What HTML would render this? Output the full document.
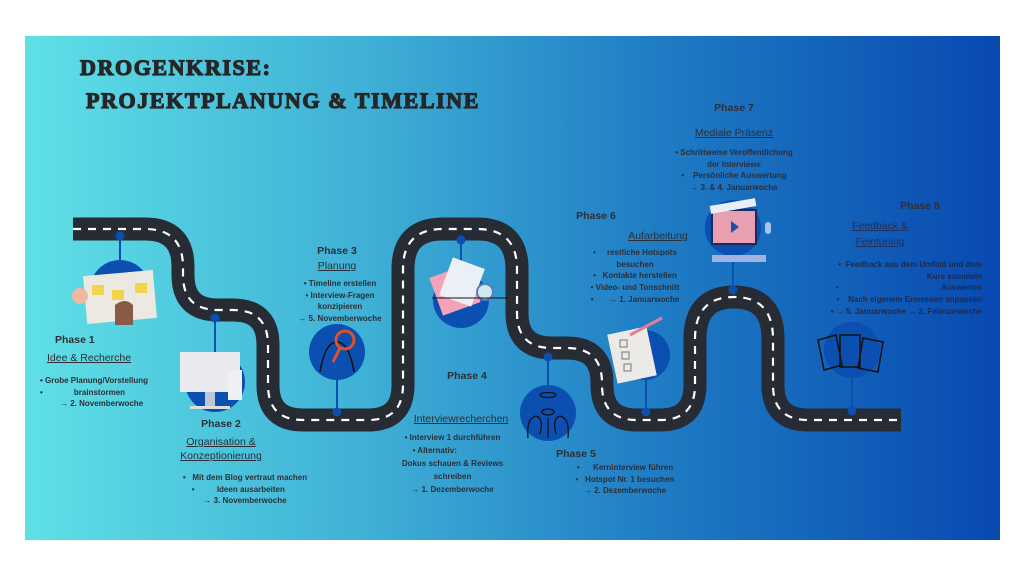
<!DOCTYPE html>
<html><head><meta charset="utf-8"><style>
*{margin:0;padding:0;box-sizing:border-box}
body{width:1024px;height:576px;background:#fff;position:relative;overflow:hidden;font-family:"Liberation Sans",sans-serif;color:#2b2f38}
#panel{position:absolute;left:25px;top:36px;width:975px;height:504px;background:linear-gradient(90deg,#5fe0e6 0%,#3fb0d6 35%,#1f7cc4 65%,#0849b0 100%)}
.t{position:absolute;font-weight:bold;text-align:center;white-space:nowrap}
.ph{font-size:10.5px}
.u{font-size:10.5px;font-weight:normal;text-decoration:underline}
.b{font-size:8px;line-height:11.7px}
.title{position:absolute;font-family:"Liberation Serif",serif;font-weight:900;font-size:22px;color:#262626;letter-spacing:1.6px;-webkit-text-stroke:1.2px #262626}
</style></head><body>
<div id="panel"></div>
<svg width="1024" height="576" style="position:absolute;left:0;top:0">
<g fill="none" stroke-linejoin="round">
<path d="M73,229 H145 Q183,229 183,267 V275 Q183,310 218,310 H233 Q268,310 268,345 V385 Q268,420 303,420 H368 Q403,420 403,385 V269 Q403,229 443,229 H477 Q517,229 517,269 V313 Q517,348 552,348 H567 Q602,348 602,383 V385 Q602,420 637,420 H660 Q695,420 695,385 V339 Q695,297 734,297 Q773,297 773,339 V385 Q773,420 808,420 H901" stroke="#272b33" stroke-width="23"/>
<path d="M73,229 H145 Q183,229 183,267 V275 Q183,310 218,310 H233 Q268,310 268,345 V385 Q268,420 303,420 H368 Q403,420 403,385 V269 Q403,229 443,229 H477 Q517,229 517,269 V313 Q517,348 552,348 H567 Q602,348 602,383 V385 Q602,420 637,420 H660 Q695,420 695,385 V339 Q695,297 734,297 Q773,297 773,339 V385 Q773,420 808,420 H901" stroke="#fff" stroke-width="2.2" stroke-dasharray="8 7"/>
</g>
<g stroke="#0b4fb0" stroke-width="2" fill="#0b4fb0">
<line x1="120" y1="236" x2="120" y2="275"/><circle cx="120" cy="236" r="3.5"/>
<line x1="215" y1="318" x2="215" y2="360"/><circle cx="215" cy="318" r="3.5"/>
<line x1="337" y1="412" x2="337" y2="370"/><circle cx="337" cy="412" r="3.5"/>
<line x1="461" y1="240" x2="461" y2="275"/><circle cx="461" cy="240" r="3.5"/>
<line x1="548" y1="357" x2="548" y2="395"/><circle cx="548" cy="357" r="3.5"/>
<line x1="646" y1="412" x2="646" y2="375"/><circle cx="646" cy="412" r="3.5"/>
<line x1="733" y1="290" x2="733" y2="255"/><circle cx="733" cy="290" r="3.5"/>
<line x1="852" y1="411" x2="852" y2="375"/><circle cx="852" cy="411" r="3.5"/>
</g>
<g fill="#0b4fb0">
<circle cx="120" cy="290" r="30"/><circle cx="215" cy="382" r="30"/>
<circle cx="337" cy="352" r="28"/><circle cx="461" cy="300" r="28"/>
<circle cx="548" cy="413" r="28"/><circle cx="645" cy="355" r="25"/>
<circle cx="733" cy="228" r="28"/><circle cx="852" cy="350" r="28"/>
</g>
<rect x="85" y="273" width="70" height="48" fill="#ece8e2" transform="rotate(-5 120 297)"/>
<rect x="92" y="285" width="12" height="10" fill="#f2d54a"/><rect x="112" y="290" width="12" height="10" fill="#f2d54a"/><rect x="135" y="283" width="12" height="10" fill="#f2d54a"/>
<path d="M115,305 q10,-8 18,0 v20 h-18z" fill="#8a5a44"/>
<circle cx="80" cy="296" r="8" fill="#f0b8a0"/>
<rect x="180" y="352" width="60" height="40" fill="#e8eaee"/><rect x="205" y="392" width="10" height="14" fill="#bcc6d4"/><rect x="190" y="406" width="40" height="3" fill="#ddd"/>
<rect x="228" y="370" width="14" height="30" fill="#f0f0f4"/>
<path d="M320,372 q5,-30 17,-30 q12,0 17,30" fill="none" stroke="#111" stroke-width="1.5"/>
<circle cx="345" cy="340" r="9" fill="none" stroke="#e0502a" stroke-width="3"/><line x1="340" y1="348" x2="333" y2="362" stroke="#e0502a" stroke-width="3"/>
<rect x="435" y="270" width="40" height="40" fill="#f4a3b8" transform="rotate(-20 455 290)"/>
<rect x="445" y="262" width="34" height="40" fill="#eaf0f6" transform="rotate(20 462 282)"/>
<circle cx="485" cy="292" r="8" fill="#cfe8f0" stroke="#5a7ab8" stroke-width="2"/>
<line x1="432" y1="298" x2="508" y2="298" stroke="#111" stroke-width="1"/>
<g fill="none" stroke="#111" stroke-width="1.3"><ellipse cx="548" cy="395" rx="8" ry="2.5"/><path d="M528,438 q-2,-20 8,-22 q8,2 4,18"/><path d="M568,438 q2,-20 -8,-22 q-8,2 -4,18"/><ellipse cx="548" cy="412" rx="6" ry="3"/><line x1="548" y1="418" x2="548" y2="438"/></g>
<rect x="612" y="330" width="40" height="50" fill="#eceae6" transform="rotate(-12 632 355)"/>
<g fill="none" stroke="#777" stroke-width="1"><rect x="620" y="340" width="7" height="7"/><rect x="622" y="352" width="7" height="7"/><rect x="624" y="364" width="7" height="7"/></g>
<line x1="630" y1="335" x2="662" y2="318" stroke="#e87a9a" stroke-width="3"/>
<rect x="712" y="210" width="44" height="34" fill="#e8a0b0" stroke="#1a2a60" stroke-width="2"/>
<rect x="710" y="202" width="46" height="8" fill="#e8eef8" transform="rotate(-10 733 206)"/>
<path d="M731,221 l8,6 l-8,6z" fill="#1a4fb0"/>
<rect x="712" y="255" width="54" height="7" fill="#9fb4e0"/>
<rect x="765" y="222" width="6" height="12" rx="3" fill="#a8c4e8"/>
<g fill="none" stroke="#111" stroke-width="1.5"><path d="M818,340 l18,-5 l6,30 l-18,5z"/><path d="M840,335 l20,0 l0,32 l-20,0z"/><path d="M863,338 l20,4 l-5,30 l-20,-4z"/></g>
</svg>
<div class="title" style="left:80px;top:55px">DROGENKRISE:</div>
<div class="title" style="left:86px;top:88px">PROJEKTPLANUNG &amp; TIMELINE</div>

<div class="t ph" style="left:55px;top:334px">Phase 1</div>
<div class="t u" style="left:47px;top:352px">Idee &amp; Recherche</div>
<div class="t b" style="left:40px;top:375px;width:135px;text-align:left">• Grobe Planung/Vorstellung<br>•&nbsp;&nbsp;&nbsp;&nbsp;&nbsp;&nbsp;&nbsp;&nbsp;&nbsp;&nbsp;&nbsp;&nbsp;&nbsp;&nbsp;brainstormen<br>&nbsp;&nbsp;&nbsp;&nbsp;&nbsp;&nbsp;&nbsp;&nbsp;&nbsp;→ 2. Novemberwoche</div>

<div class="t ph" style="left:171px;top:418px;width:100px">Phase 2</div>
<div class="t u" style="left:161px;top:435px;width:120px;line-height:14px">Organisation &amp;<br>Konzeptionierung</div>
<div class="t b" style="left:170px;top:472px;width:150px">• &nbsp;&nbsp;Mit dem Blog vertraut machen<br>•&nbsp;&nbsp;&nbsp;&nbsp;&nbsp;&nbsp;&nbsp;&nbsp;&nbsp;&nbsp;Ideen ausarbeiten&nbsp;&nbsp;&nbsp;&nbsp;&nbsp;&nbsp;<br>→ 3. Novemberwoche</div>

<div class="t ph" style="left:287px;top:245px;width:100px">Phase 3</div>
<div class="t u" style="left:287px;top:260px;width:100px">Planung</div>
<div class="t b" style="left:285px;top:278px;width:110px">• Timeline erstellen<br>• Interview-Fragen<br>konzipieren<br>→ 5. Novemberwoche</div>

<div class="t ph" style="left:417px;top:370px;width:100px">Phase 4</div>
<div class="t u" style="left:401px;top:413px;width:120px">Interviewrecherchen</div>
<div class="t b" style="left:385px;top:431px;width:135px;line-height:13px">• Interview 1 durchführen<br>• Alternativ:&nbsp;&nbsp;&nbsp;&nbsp;&nbsp;&nbsp;&nbsp;&nbsp;&nbsp;&nbsp;&nbsp;&nbsp;&nbsp;&nbsp;&nbsp;&nbsp;<br>Dokus schauen &amp; Reviews<br>schreiben<br>→ 1. Dezemberwoche</div>

<div class="t ph" style="left:526px;top:448px;width:100px">Phase 5</div>
<div class="t b" style="left:560px;top:462px;width:130px">•&nbsp;&nbsp;&nbsp;&nbsp;&nbsp;&nbsp;Kerninterview führen<br>•&nbsp;&nbsp;&nbsp;Hotspot Nr. 1 besuchen<br>→ 2. Dezemberwoche</div>

<div class="t ph" style="left:546px;top:210px;width:100px">Phase 6</div>
<div class="t u" style="left:608px;top:230px;width:100px">Aufarbeitung</div>
<div class="t b" style="left:575px;top:247px;width:120px">•&nbsp;&nbsp;&nbsp;&nbsp;&nbsp;restliche Hotspots<br>besuchen<br>•&nbsp;&nbsp;&nbsp;Kontakte herstellen<br>• Video- und Tonschnitt<br>•&nbsp;&nbsp;&nbsp;&nbsp;&nbsp;&nbsp;&nbsp;→ 1. Januarwoche</div>

<div class="t ph" style="left:684px;top:102px;width:100px">Phase 7</div>
<div class="t u" style="left:674px;top:127px;width:120px">Mediale Präsenz</div>
<div class="t b" style="left:659px;top:147px;width:150px">• Schrittweise Veröffentlichung<br>der Interviews<br>•&nbsp;&nbsp;&nbsp;&nbsp;Persönliche Auswertung<br>→ 3. &amp; 4. Januarwoche</div>

<div class="t ph" style="left:870px;top:200px;width:100px">Phase 8</div>
<div class="t u" style="left:820px;top:218px;width:120px;line-height:16px;color:#22305a">Feedback &amp;<br>Feintuning</div>
<div class="t b" style="left:808px;top:259px;width:174px;text-align:right;color:#1c2a4e">• &nbsp;Feedback aus dem Umfeld und dem<br>Kurs sammeln<br>•&nbsp;&nbsp;&nbsp;&nbsp;&nbsp;&nbsp;&nbsp;&nbsp;&nbsp;&nbsp;&nbsp;&nbsp;&nbsp;&nbsp;&nbsp;&nbsp;&nbsp;&nbsp;&nbsp;&nbsp;&nbsp;&nbsp;&nbsp;&nbsp;&nbsp;&nbsp;&nbsp;&nbsp;&nbsp;&nbsp;&nbsp;&nbsp;&nbsp;&nbsp;&nbsp;&nbsp;&nbsp;&nbsp;&nbsp;&nbsp;&nbsp;&nbsp;&nbsp;&nbsp;&nbsp;&nbsp;Auswerten<br>•&nbsp;&nbsp;&nbsp;&nbsp;Nach eigenem Ermessen anpassen<br>• → 5. Januarwoche → 2. Februarwoche</div>
</body></html>
